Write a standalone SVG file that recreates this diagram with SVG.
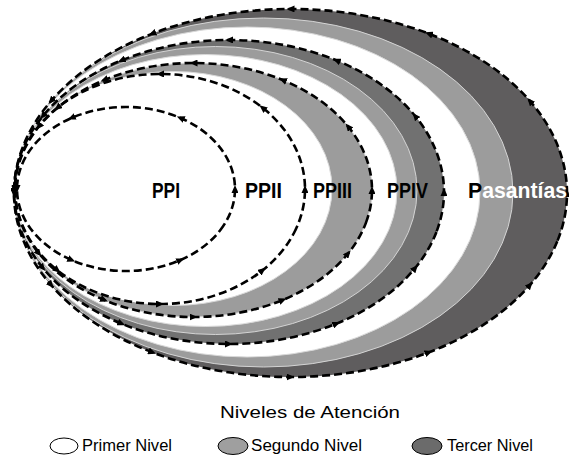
<svg xmlns="http://www.w3.org/2000/svg" width="569" height="460" viewBox="0 0 569 460">
<defs>
<marker id="arr" viewBox="0 0 8 7" refX="4" refY="3.5" markerWidth="8" markerHeight="7" markerUnits="userSpaceOnUse" orient="auto">
<path d="M0,0 L8,3.5 L0,7 z" fill="#000"/>
</marker>
<style>
.dark1{fill:#5f5d5e;}
.dark2{fill:#717171;}
.gray{fill:#9c9c9c;stroke:#d4d4d4;stroke-width:1;}
.white{fill:#fff;stroke:#d9d9d9;stroke-width:1;}
.dash{fill:none;stroke:#000;stroke-width:2.6;stroke-dasharray:8 4;marker-mid:url(#arr);}
.lbl{font-family:"Liberation Sans",Arial,sans-serif;font-size:22px;font-weight:bold;fill:#000;}
.leg{font-family:"Liberation Sans",Arial,sans-serif;font-size:16px;fill:#000;}
.sw{stroke:#000;stroke-width:1;}
</style>
</defs>
<rect width="569" height="460" fill="#fff"/>
<g id="pasantias">
<ellipse class="dark1" cx="290.5" cy="193" rx="276.5" ry="184"/>
<ellipse class="gray" cx="263.5" cy="192.5" rx="249.5" ry="174.5"/>
<ellipse class="white" cx="247" cy="192" rx="233" ry="165"/>
</g>
<g id="ppiv">
<ellipse class="dark2" cx="229" cy="192" rx="215" ry="152"/>
<ellipse class="gray" cx="215.5" cy="190.5" rx="201.5" ry="144"/>
<ellipse class="white" cx="205.5" cy="190.5" rx="191.5" ry="136"/>
</g>
<g id="ppiii">
<ellipse class="gray" cx="193.5" cy="190" rx="178.5" ry="127" stroke="none"/>
<ellipse class="white" cx="173.5" cy="188.5" rx="158.5" ry="117"/>
</g>
<g id="ppii">
<ellipse fill="#fff" cx="160" cy="189" rx="145" ry="115"/>
</g>
<g id="ppi">
<ellipse fill="#fff" cx="126" cy="189" rx="109" ry="82"/>
</g>
<g id="connectors">
<path class="dash" d="M557.57,240.62 A276.5,184 0 0 0 567,193 A276.5,184 0 0 0 529.95,101 A276.5,184 0 0 0 428.75,33.65 A276.5,184 0 0 0 290.5,9 A276.5,184 0 0 0 152.25,33.65 A276.5,184 0 0 0 51.05,101 A276.5,184 0 0 0 14,193 A276.5,184 0 0 0 51.05,285 A276.5,184 0 0 0 152.25,352.35 A276.5,184 0 0 0 290.5,377 A276.5,184 0 0 0 428.75,352.35 A276.5,184 0 0 0 529.95,285 A276.5,184 0 0 0 557.57,240.62"/>
<path class="dash" d="M436.67,231.34 A215,152 0 0 0 444,192 A215,152 0 0 0 415.19,116 A215,152 0 0 0 336.5,60.37 A215,152 0 0 0 229,40 A215,152 0 0 0 121.5,60.37 A215,152 0 0 0 42.81,116 A215,152 0 0 0 14,192 A215,152 0 0 0 42.81,268 A215,152 0 0 0 121.5,323.63 A215,152 0 0 0 229,344 A215,152 0 0 0 336.5,323.63 A215,152 0 0 0 415.19,268 A215,152 0 0 0 436.67,231.34"/>
<path class="dash" d="M365.91,222.87 A178.5,127 0 0 0 372,190 A178.5,127 0 0 0 348.08,126.5 A178.5,127 0 0 0 282.75,80.02 A178.5,127 0 0 0 193.5,63 A178.5,127 0 0 0 104.25,80.02 A178.5,127 0 0 0 38.92,126.5 A178.5,127 0 0 0 15,190 A178.5,127 0 0 0 38.92,253.5 A178.5,127 0 0 0 104.25,299.98 A178.5,127 0 0 0 193.5,317 A178.5,127 0 0 0 282.75,299.98 A178.5,127 0 0 0 348.08,253.5 A178.5,127 0 0 0 365.91,222.87"/>
<path class="dash" d="M293.97,233.01 A145,115 0 0 0 305,189 A145,115 0 0 0 262.53,107.68 A145,115 0 0 0 160,74 A145,115 0 0 0 57.47,107.68 A145,115 0 0 0 15,189 A145,115 0 0 0 57.47,270.32 A145,115 0 0 0 160,304 A145,115 0 0 0 262.53,270.32 A145,115 0 0 0 293.97,233.01"/>
<path class="dash" d="M220.39,230 A109,82 0 0 0 235,189 A109,82 0 0 0 180.5,117.99 A109,82 0 0 0 71.5,117.99 A109,82 0 0 0 17,189 A109,82 0 0 0 71.5,260.01 A109,82 0 0 0 180.5,260.01 A109,82 0 0 0 220.39,230"/>
</g>
<g id="labels">
<text class="lbl" x="152" y="198" textLength="28" lengthAdjust="spacingAndGlyphs">PPI</text>
<text class="lbl" x="245" y="198" textLength="37" lengthAdjust="spacingAndGlyphs">PPII</text>
<text class="lbl" x="313" y="198" textLength="39" lengthAdjust="spacingAndGlyphs">PPIII</text>
<text class="lbl" x="387" y="198" textLength="41" lengthAdjust="spacingAndGlyphs">PPIV</text>
<text class="lbl" x="468" y="198" textLength="99" lengthAdjust="spacingAndGlyphs">P<tspan style="fill:#fff">asantías</tspan></text>
</g>
<g id="legend">
<text class="leg" x="220" y="418" style="font-size:17px" textLength="180" lengthAdjust="spacingAndGlyphs">Niveles de Atención</text>
<g id="leg-primer">
<ellipse class="sw" cx="64" cy="446" rx="14" ry="8" fill="#fff"/>
<text class="leg" x="82" y="451" textLength="90" lengthAdjust="spacingAndGlyphs">Primer Nivel</text>
</g>
<g id="leg-segundo">
<ellipse class="sw" cx="233" cy="446" rx="15" ry="8.5" fill="#9f9f9f"/>
<text class="leg" x="251" y="451" textLength="111" lengthAdjust="spacingAndGlyphs">Segundo Nivel</text>
</g>
<g id="leg-tercer">
<ellipse class="sw" cx="427" cy="446" rx="15" ry="8.5" fill="#6b6b6b"/>
<text class="leg" x="447" y="451" textLength="86" lengthAdjust="spacingAndGlyphs">Tercer Nivel</text>
</g>
</g>
</svg>
